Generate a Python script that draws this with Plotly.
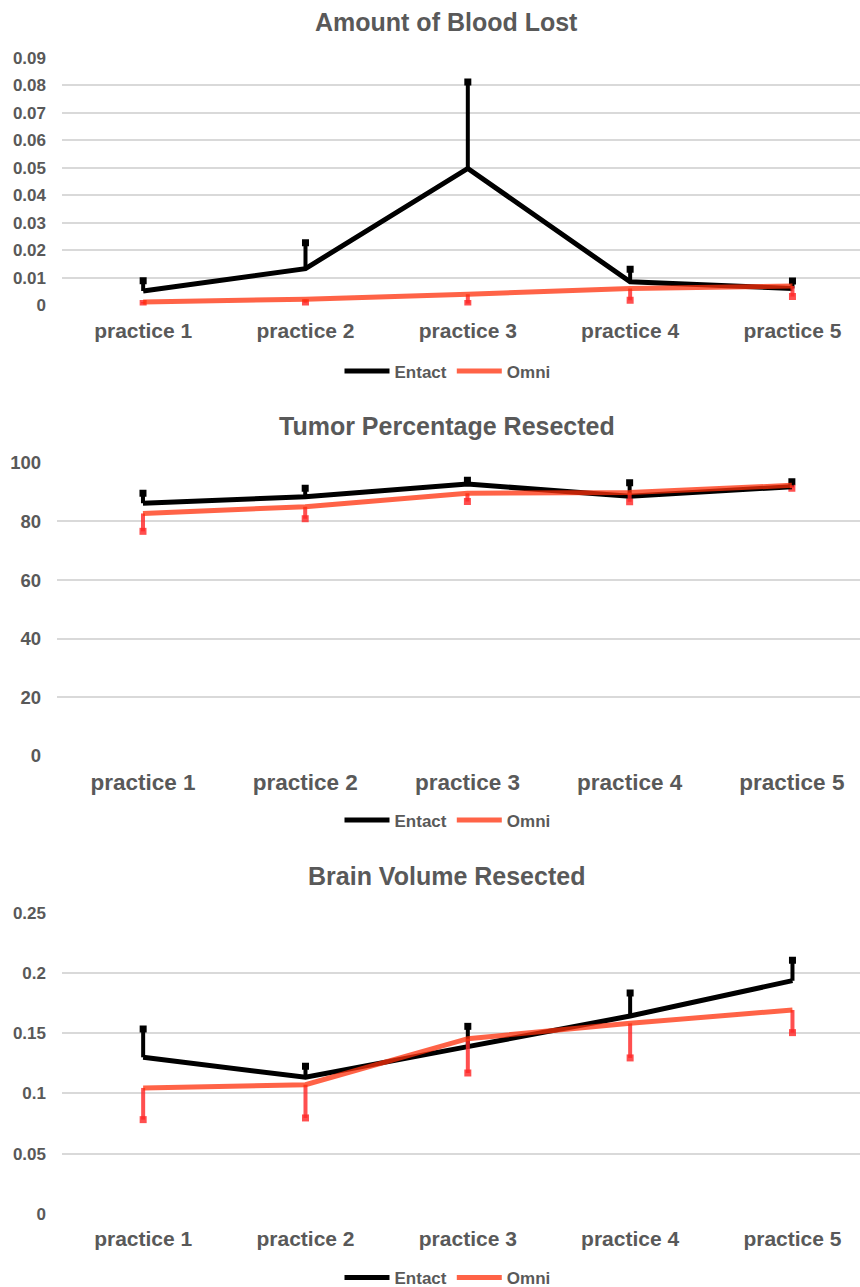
import plotly.graph_objects as go

categories = ["practice 1", "practice 2", "practice 3", "practice 4", "practice 5"]

# Amount of Blood Lost
blood_entact = [0.0053, 0.0134, 0.0498, 0.0086, 0.0062]
blood_entact_err = [0.0037, 0.0094, 0.0314, 0.0046, 0.0027]
blood_omni = [0.0013, 0.0023, 0.0041, 0.0062, 0.0071]
blood_omni_err = [0.0006, 0.0013, 0.0034, 0.0043, 0.0038]

# Tumor Percentage Resected
tumor_entact = [86.2, 88.4, 92.7, 88.6, 91.8]
tumor_entact_err = [3.4, 2.9, 1.3, 4.6, 1.7]
tumor_omni = [82.7, 85.0, 89.6, 89.8, 92.3]
tumor_omni_err = [6.1, 4.1, 2.8, 3.1, 1.0]

# Brain Volume Resected
brain_entact = [0.130, 0.1134, 0.1389, 0.1643, 0.1936]
brain_entact_err = [0.0235, 0.0092, 0.0168, 0.0191, 0.0169]
brain_omni = [0.1046, 0.1073, 0.1455, 0.1582, 0.1693]
brain_omni_err = [0.0263, 0.0276, 0.0285, 0.0287, 0.0188]

titles = ["Amount of Blood Lost", "Tumor Percentage Resected", "Brain Volume Resected"]

GRAY = "#595959"
FONT = "Liberation Sans, Arial, sans-serif"
ENTACT_COLOR = "#000000"
OMNI_COLOR = "rgba(255,47,10,0.75)"
OMNI_ERR_COLOR = "rgba(255,40,40,0.82)"

H = 1287.0
W = 860.0

def py(px):
    return 1 - px / H

panels = [
    dict(ent=blood_entact, ent_err=blood_entact_err, omn=blood_omni, omn_err=blood_omni_err,
         yrange=[0, 0.09], dtick=0.01, dom=[py(305.5), py(57.7)], title_y=py(22),
         leg_y=py(371.5), xfs=21, yfs=17, xleft=62, xr=[-0.5, 4.416]),
    dict(ent=tumor_entact, ent_err=tumor_entact_err, omn=tumor_omni, omn_err=tumor_omni_err,
         yrange=[0, 100], dtick=20, dom=[py(756), py(462.7)], title_y=py(426),
         leg_y=py(820.5), xfs=22.5, yfs=18.5, xleft=57, xr=[-0.53, 4.42]),
    dict(ent=brain_entact, ent_err=brain_entact_err, omn=brain_omni, omn_err=brain_omni_err,
         yrange=[0, 0.25], dtick=0.05, dom=[py(1214), py(912.7)], title_y=py(876),
         leg_y=py(1278), xfs=21, yfs=17, xleft=62, xr=[-0.5, 4.416]),
]

fig = go.Figure()
layout = dict(
    width=860, height=1287,
    margin=dict(l=0, r=0, t=0, b=0, autoexpand=False),
    paper_bgcolor="white", plot_bgcolor="white",
    font=dict(family=FONT, color=GRAY, weight="bold"),
    annotations=[],
)

for i, p in enumerate(panels):
    n = "" if i == 0 else str(i + 1)
    leg = "legend" + n
    ax = dict(xaxis="x" + n, yaxis="y" + n)
    # error-bar caps (drawn as small square blocks, like the source)
    fig.add_trace(go.Scatter(
        x=categories, y=[v + e for v, e in zip(p["ent"], p["ent_err"])],
        mode="markers", marker=dict(symbol="square", size=7, color=ENTACT_COLOR),
        showlegend=False, hoverinfo="skip", **ax,
    ))
    fig.add_trace(go.Scatter(
        x=categories, y=[v - e for v, e in zip(p["omn"], p["omn_err"])],
        mode="markers", marker=dict(symbol="square", size=7, color=OMNI_ERR_COLOR),
        showlegend=False, hoverinfo="skip", **ax,
    ))
    fig.add_trace(go.Scatter(
        x=categories, y=p["ent"], name="Entact", mode="lines",
        line=dict(color=ENTACT_COLOR, width=5),
        error_y=dict(type="data", symmetric=False, array=p["ent_err"],
                     arrayminus=[0] * 5, color=ENTACT_COLOR, thickness=4, width=0),
        legend=leg, **ax,
    ))
    fig.add_trace(go.Scatter(
        x=categories, y=p["omn"], name="Omni", mode="lines",
        line=dict(color=OMNI_COLOR, width=5),
        error_y=dict(type="data", symmetric=False, array=[0] * 5,
                     arrayminus=p["omn_err"], color=OMNI_ERR_COLOR, thickness=4, width=0),
        legend=leg, **ax,
    ))
    layout["xaxis" + n] = dict(
        domain=[p["xleft"] / W, 1.0], range=p["xr"], anchor="y" + n, type="category",
        showgrid=False, zeroline=False, showline=False, ticks="",
        tickfont=dict(size=p["xfs"], color=GRAY, family=FONT, weight="bold"),
        ticklabelstandoff=10, fixedrange=True,
    )
    layout["yaxis" + n] = dict(
        domain=p["dom"], range=p["yrange"], anchor="x" + n,
        dtick=p["dtick"], tick0=0,
        showgrid=True, gridcolor="#d9d9d9", gridwidth=2,
        zeroline=False, showline=False, ticks="",
        tickfont=dict(size=p["yfs"], color=GRAY, family=FONT, weight="bold"),
        ticklabelstandoff=15, fixedrange=True,
    )
    layout[leg] = dict(
        orientation="h", x=447.5 / W, xanchor="center", y=p["leg_y"], yanchor="middle",
        font=dict(size=17, color=GRAY, family=FONT, weight="bold"),
        bgcolor="rgba(0,0,0,0)", itemwidth=45, tracegroupgap=0,
    )
    layout["annotations"].append(dict(
        text=titles[i], xref="paper", yref="paper", x=446.5 / W, y=p["title_y"],
        xanchor="center", yanchor="middle", showarrow=False,
        font=dict(size=25, color=GRAY, family=FONT, weight="bold"),
    ))

fig.update_layout(**layout)
fig.write_html("out.html")
